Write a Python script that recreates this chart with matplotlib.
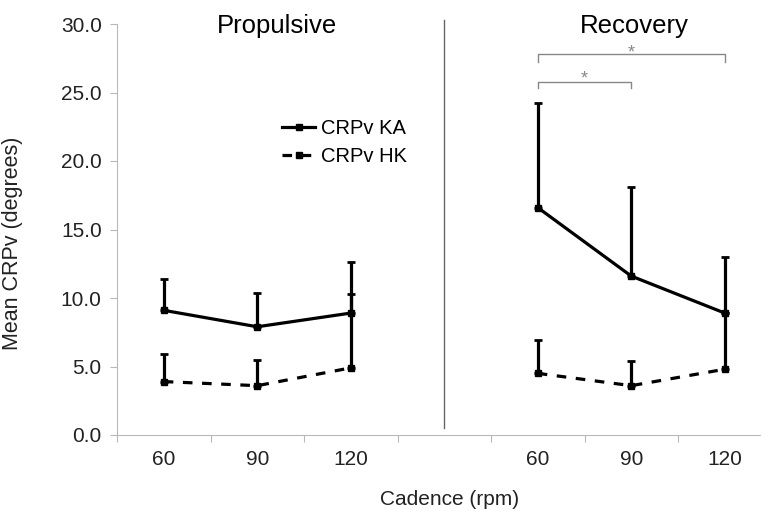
import matplotlib.pyplot as plt
from matplotlib.lines import Line2D

plt.rcParams['font.family'] = ['Liberation Sans', 'DejaVu Sans']

cadences = ['60', '90', '120']
phases = ['Propulsive', 'Recovery']

# means and upper SD per phase, order 60/90/120
ka_prop = [9.1, 7.9, 8.9]
ka_prop_sd = [2.3, 2.5, 3.7]
hk_prop = [3.9, 3.6, 4.9]
hk_prop_sd = [2.0, 1.9, 5.4]

ka_rec = [16.6, 11.6, 8.9]
ka_rec_sd = [7.6, 6.5, 4.1]
hk_rec = [4.5, 3.6, 4.8]
hk_rec_sd = [2.4, 1.8, 4.1]

grey = '#b8b8b8'
dash = (0, (3, 3))

fig = plt.figure(figsize=(7.61, 5.12), dpi=100)
ax = fig.add_axes([117 / 761, 77 / 512, 654.5 / 761, 411 / 512])

pos_prop = [0, 1, 2]
pos_rec = [4, 5, 6]

err_kw = dict(color='black', lw=2.3, marker='s', ms=5, elinewidth=2.3,
              capsize=3, capthick=2)

for pos, ka, ka_sd, hk, hk_sd in [
        (pos_prop, ka_prop, ka_prop_sd, hk_prop, hk_prop_sd),
        (pos_rec, ka_rec, ka_rec_sd, hk_rec, hk_rec_sd)]:
    ax.errorbar(pos, hk, yerr=[[0] * 3, hk_sd], ls=dash, **err_kw)
    ax.errorbar(pos, ka, yerr=[[0] * 3, ka_sd], ls='-', **err_kw)

# divider between phases
ax.plot([3, 3], [0.5, 30.3], color='#666666', lw=1, clip_on=False)

# phase titles
ax.text(1.21, 29.35, phases[0], ha='center', va='baseline', fontsize=18.5)
ax.text(5.03, 29.35, phases[1], ha='center', va='baseline', fontsize=18.5)

# significance brackets
brk = '#888888'
ax.plot([4, 4, 6, 6], [27.2, 27.8, 27.8, 27.2], color=brk, lw=1)
ax.text(5, 27.55, '*', ha='center', va='baseline', fontsize=13, color=brk)
ax.plot([4, 4, 5, 5], [25.3, 25.8, 25.8, 25.3], color=brk, lw=1)
ax.text(4.5, 25.65, '*', ha='center', va='baseline', fontsize=13, color=brk)

ax.set_xlim(-0.5, 6.5)
ax.set_ylim(0, 30)
ax.set_yticks(range(0, 31, 5))
ax.set_yticklabels([f'{v:.1f}' for v in range(0, 31, 5)])
ax.set_xticks([-0.5, 0.5, 1.5, 2.5, 3.5, 4.5, 5.5])
ax.set_xticklabels([])
ax.set_xticks(pos_prop + pos_rec, minor=True)
ax.set_xticklabels(cadences + cadences, minor=True)
ax.tick_params(axis='x', which='minor', length=0, pad=11, labelsize=15,
               labelcolor='#222222')
ax.tick_params(axis='both', which='major', color=grey, length=5, pad=6,
               labelsize=15, labelcolor='#222222')

for s in ['top', 'right']:
    ax.spines[s].set_visible(False)
for s in ['left', 'bottom']:
    ax.spines[s].set_color(grey)

ax.set_ylabel('Mean CRPv (degrees)', fontsize=15.5, color='#222222')
ax.yaxis.set_label_coords(-(117 - 23) / 654.5, (435 - 243) / 411)
ax.set_xlabel('Cadence (rpm)', fontsize=15, color='#222222')
ax.xaxis.set_label_coords((450 - 117) / 654.5, -(490 - 435) / 411)

handles = [Line2D([], [], color='black', lw=2.3, marker='s', ms=4),
           Line2D([], [], color='black', lw=2.3, ls=dash, marker='s', ms=5)]
ax.legend(handles, ['CRPv KA', 'CRPv HK'], loc='upper left',
          bbox_to_anchor=((282 - 117) / 654.5, (435 - 119) / 411),
          frameon=False, fontsize=14.5, handlelength=1.65,
          handletextpad=0.3, labelspacing=0.45, borderpad=0,
          borderaxespad=0)

fig.savefig('out.png', dpi=100)
